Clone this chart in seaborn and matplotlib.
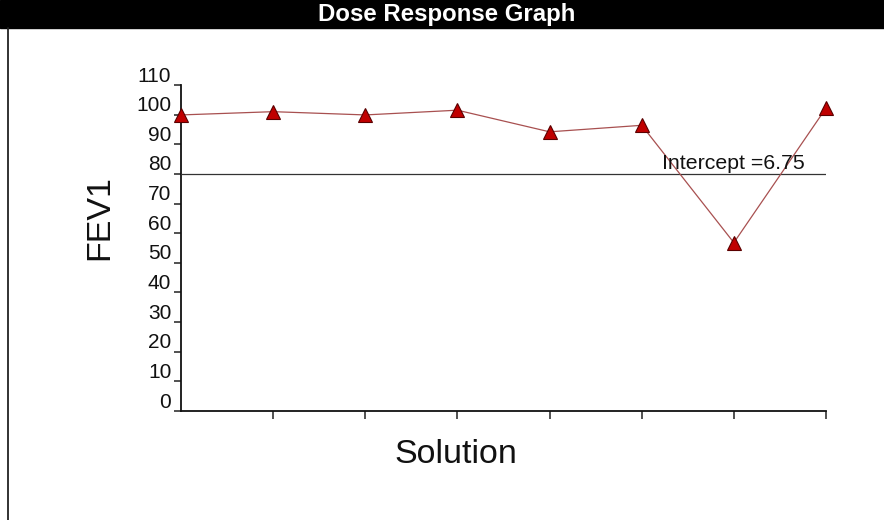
import matplotlib
matplotlib.use("Agg")
import matplotlib.pyplot as plt
import matplotlib.transforms as mtransforms
from matplotlib.patches import Rectangle
from matplotlib.lines import Line2D
import seaborn as sns
import pandas as pd

# ---- data ----
solutions = [0, 1, 2, 3, 4, 5, 6, 7]
fev1 = [99.9, 101.0, 99.9, 101.5, 94.2, 96.4, 56.8, 102.2]
y_ticks = [0, 10, 20, 30, 40, 50, 60, 70, 80, 90, 100, 110]
x_ticks = [1, 2, 3, 4, 5, 6, 7]
intercept_level = 80
intercept_label = "Intercept =6.75"
title = "Dose Response Graph"

sns.set_style("ticks")
plt.rcParams["font.family"] = ["Liberation Sans", "DejaVu Sans"]

W, H = 884, 520
fig = plt.figure(figsize=(W / 100, H / 100), dpi=100)
ax = fig.add_axes([181 / W, 1 - 411 / H, (826 - 181) / W, (411 - 85) / H])

df = pd.DataFrame({"Solution": solutions, "FEV1": fev1})
sns.lineplot(data=df, x="Solution", y="FEV1", ax=ax, color="#a85050",
             linewidth=0.9, marker="^", markersize=9.5,
             markerfacecolor="#c00000", markeredgecolor="#5a0000",
             markeredgewidth=0.8, clip_on=False, zorder=5)

ax.axhline(intercept_level, color="#333333", linewidth=0.9, zorder=3)
ax.text(5.22, intercept_level + 1.7, intercept_label, fontsize=15.3,
        color="#111111", va="baseline", ha="left", zorder=6)

ax.set_xlim(0, 7)
ax.set_ylim(0, 110)
ax.set_xticks(x_ticks)
ax.set_xticklabels([])
ax.set_yticks(y_ticks)
ax.set_yticklabels([str(v) for v in y_ticks], fontsize=15, color="#111111")
ax.tick_params(axis="y", length=5, width=1.1, pad=2, color="#222222")
ax.tick_params(axis="x", length=6, width=1.1, color="#222222")
offset = mtransforms.ScaledTranslation(0, 0.11, fig.dpi_scale_trans)
for lab in ax.get_yticklabels():
    lab.set_transform(lab.get_transform() + offset)

for s in ["top", "right"]:
    ax.spines[s].set_visible(False)
for s in ["left", "bottom"]:
    ax.spines[s].set_linewidth(1.3)
    ax.spines[s].set_color("#111111")
ax.set_xlabel("")
ax.set_ylabel("")

fig.text(456 / W, 1 - 463 / H, "Solution", fontsize=24.5, ha="center",
         va="baseline", color="#111111")
fig.text(100 / W, 1 - 218 / H, "FEV1", fontsize=24.5, rotation=90,
         ha="center", va="center", color="#111111")

# title bar
fig.add_artist(Rectangle((0, 1 - 28 / H), 1, 28 / H, transform=fig.transFigure,
                         color="black", zorder=0))
fig.text(447 / W, 1 - 15 / H, title, fontsize=17.3, fontweight="bold",
         color="white", ha="center", va="center")
# left border
fig.add_artist(Line2D([8 / W, 8 / W], [0, 1 - 28 / H], transform=fig.transFigure,
                      color="#222222", linewidth=1.3))

fig.savefig("out.png", dpi=100)
